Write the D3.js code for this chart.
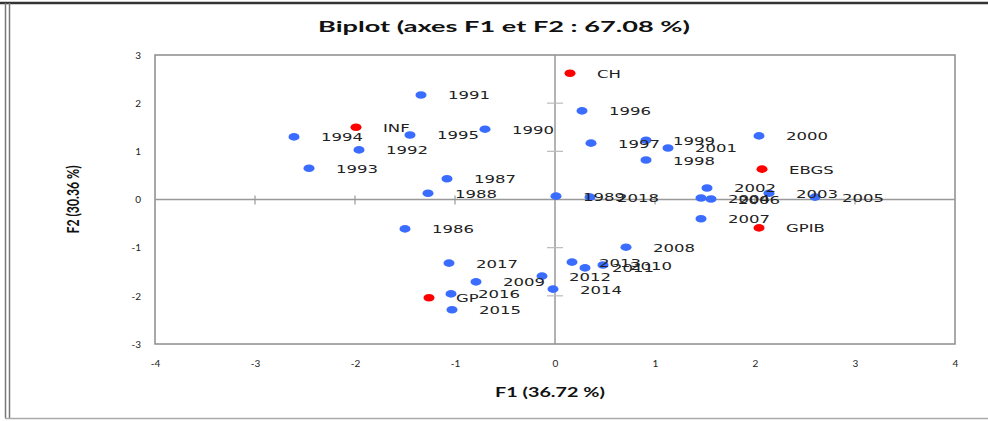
<!DOCTYPE html>
<html>
<head>
<meta charset="utf-8">
<script src="https://cdn.jsdelivr.net/npm/d3@7/dist/d3.min.js"></script>
<style>
  html, body { margin: 0; padding: 0; background: #fff; }
  svg { display: block; }
</style>
</head>
<body>
<svg id="chart" width="988" height="421"></svg>
<script>
// Observations (years) on the first factorial plane
const obsLabels = ["1986","1987","1988","1989","1990","1991","1992","1993","1994","1995",
                   "1996","1997","1998","1999","2000","2001","2002","2003","2004","2005",
                   "2006","2007","2008","2009","2010","2011","2012","2013","2014","2015",
                   "2016","2017","2018"];
const obsF1 = [-1.50,-1.08,-1.27, 0.01,-0.70,-1.34,-1.96,-2.46,-2.61,-1.45,
                0.27, 0.36, 0.91, 0.91, 2.04, 1.13, 1.52, 2.14, 1.46, 2.60,
                1.56, 1.46, 0.71,-0.79, 0.48, 0.30,-0.13, 0.17,-0.02,-1.03,
               -1.04,-1.06, 0.35];
const obsF2 = [-0.61, 0.43, 0.13, 0.07, 1.46, 2.17, 1.03, 0.65, 1.30, 1.34,
                1.84, 1.17, 0.82, 1.23, 1.32, 1.07, 0.24, 0.13, 0.03, 0.05,
                0.01,-0.40,-0.99,-1.71,-1.36,-1.42,-1.59,-1.30,-1.86,-2.29,
               -1.96,-1.32, 0.05];

// Variables
const varLabels = ["CH","INF","EBGS","GPIB","GP"];
const varF1 = [0.15,-1.99, 2.07, 2.04,-1.26];
const varF2 = [2.62, 1.50, 0.63,-0.59,-2.04];

// Axis ticks
const xTicks = [-4,-3,-2,-1,0,1,2,3,4];
const yTicks = [-3,-2,-1,0,1,2,3];

const titleText = "Biplot (axes F1 et F2 : 67.08 %)";
const xTitle = "F1 (36.72 %)";
const yTitle = "F2 (30.36 %)";

const svg = d3.select("#chart");
const W = 988, H = 421;
const plot = { left: 155, right: 955, top: 55, bottom: 344 };

const x = d3.scaleLinear().domain([-4, 4]).range([plot.left, plot.right]);
const y = d3.scaleLinear().domain([-3, 3]).range([plot.bottom, plot.top]);

// Outer chart frame
svg.append("line").attr("x1", 0).attr("x2", W).attr("y1", 3).attr("y2", 3)
  .attr("stroke", "#333").attr("stroke-width", 2.5);
[5.5, 9.5].forEach(px => svg.append("line")
  .attr("x1", px).attr("x2", px).attr("y1", 3).attr("y2", 418)
  .attr("stroke", "#777").attr("stroke-width", 1.5));
svg.append("line").attr("x1", 5).attr("x2", W).attr("y1", 418.5).attr("y2", 418.5)
  .attr("stroke", "#aaa").attr("stroke-width", 1.5);

// Title
svg.append("text")
  .attr("x", 318).attr("y", 32)
  .attr("textLength", 372).attr("lengthAdjust", "spacingAndGlyphs")
  .attr("font-family", "Lato, 'Open Sans', sans-serif")
  .attr("font-weight", "bold").attr("font-size", 16).attr("fill", "#111")
  .text(titleText);

// Plot frame
svg.append("rect")
  .attr("x", plot.left).attr("y", plot.top)
  .attr("width", plot.right - plot.left).attr("height", plot.bottom - plot.top)
  .attr("fill", "none").attr("stroke", "#8c8c8c").attr("stroke-width", 1.5);

// Zero lines through the origin
const g = svg.append("g");
g.append("line").attr("x1", x(0)).attr("x2", x(0)).attr("y1", plot.top).attr("y2", plot.bottom)
  .attr("stroke", "#999").attr("stroke-width", 1.5);
g.append("line").attr("x1", plot.left).attr("x2", plot.right).attr("y1", y(0)).attr("y2", y(0))
  .attr("stroke", "#999").attr("stroke-width", 1.5);

// Cross ticks on the zero lines
g.selectAll(".xt").data(xTicks.filter(d => d > -4 && d < 4 && d !== 0)).join("line")
  .attr("x1", d => x(d)).attr("x2", d => x(d))
  .attr("y1", y(0) - 4).attr("y2", y(0) + 5)
  .attr("stroke", "#999").attr("stroke-width", 1.2);
g.selectAll(".yt").data(yTicks.filter(d => d > -3 && d < 3 && d !== 0)).join("line")
  .attr("x1", x(0) - 8).attr("x2", x(0) + 8)
  .attr("y1", d => y(d)).attr("y2", d => y(d))
  .attr("stroke", "#bbb").attr("stroke-width", 1.2);

// Tick labels via d3 axes (marks drawn on zero lines above)
const xAxis = d3.axisBottom(x).tickValues(xTicks).tickSize(0).tickPadding(0)
  .tickFormat(d => d < 0 ? "-" + Math.abs(d) : String(d));
const gx = svg.append("g").attr("transform", `translate(0,${plot.bottom + 16})`).call(xAxis);
gx.select(".domain").remove();
gx.selectAll("text").attr("font-family", "Lato, sans-serif").attr("font-size", 10)
  .attr("fill", "#222");

const yAxis = d3.axisLeft(y).tickValues(yTicks).tickSize(0).tickPadding(0)
  .tickFormat(d => d < 0 ? "-" + Math.abs(d) : String(d));
const gy = svg.append("g").attr("transform", `translate(${plot.left - 14},0)`).call(yAxis);
gy.select(".domain").remove();
gy.selectAll("text").attr("font-family", "Lato, sans-serif").attr("font-size", 10)
  .attr("fill", "#222");

// Axis titles
svg.append("text")
  .attr("x", (plot.left + plot.right) / 2 - 5).attr("y", 397)
  .attr("text-anchor", "middle")
  .attr("textLength", 110).attr("lengthAdjust", "spacingAndGlyphs")
  .attr("font-family", "Lato, sans-serif").attr("font-weight", "bold")
  .attr("font-size", 13).attr("fill", "#111")
  .text(xTitle);

svg.append("text")
  .attr("transform", `translate(79,${y(0)}) rotate(-90)`)
  .attr("text-anchor", "middle")
  .attr("textLength", 68).attr("lengthAdjust", "spacingAndGlyphs")
  .attr("font-family", "Lato, sans-serif").attr("font-weight", "bold")
  .attr("font-size", 17).attr("fill", "#111")
  .text(yTitle);

// Point layers
function drawPoints(labels, f1, f2, color) {
  const pts = labels.map((l, i) => ({ label: l, f1: f1[i], f2: f2[i] }));
  const layer = svg.append("g");
  layer.selectAll("ellipse").data(pts).join("ellipse")
    .attr("cx", d => x(d.f1)).attr("cy", d => y(d.f2))
    .attr("rx", 5.5).attr("ry", 3.8)
    .attr("fill", color);
  layer.selectAll("text").data(pts).join("text")
    .attr("x", d => x(d.f1) + 27).attr("y", d => y(d.f2) + 4.5)
    .attr("font-family", "'DejaVu Sans', sans-serif").attr("font-size", 11)
    .attr("fill", "#222")
    .text(d => d.label)
    .each(function () {
      const w = this.getComputedTextLength();
      d3.select(this).attr("textLength", w * 1.5).attr("lengthAdjust", "spacingAndGlyphs");
    });
}

drawPoints(obsLabels, obsF1, obsF2, "#3a6cff");
drawPoints(varLabels, varF1, varF2, "#ff0000");
</script>
</body>
</html>
